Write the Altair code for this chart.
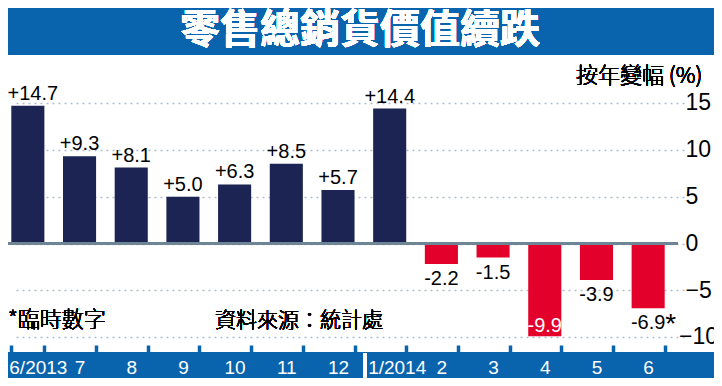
import altair as alt
import pandas as pd

months = ["6/2013", "7", "8", "9", "10", "11", "12", "1/2014", "2", "3", "4", "5", "6"]
values = [14.7, 9.3, 8.1, 5.0, 6.3, 8.5, 5.7, 14.4, -2.2, -1.5, -9.9, -3.9, -6.9]
provisional = [False] * 12 + [True]
y_ticks = [-10, -5, 0, 5, 10, 15]

title_text = "零售總銷貨價值續跌"
unit_text = "按年變幅 (%)"
note_text = "*臨時數字"
source_text = "資料來源：統計處"

NAVY = "#1b2452"
RED = "#e3002b"
BLUE = "#0a64ad"
ZERO = "#6e8595"
GRID = "#aebbd0"
NUMFONT = "Liberation Sans, Arial"
CJK = "Noto Sans CJK TC"

df = pd.DataFrame({"month": months, "value": values, "prov": provisional})
df["label"] = [f"+{v:.1f}" if v > 0 else f"{v:.1f}" for v in values]
df["pos"] = ["above" if v > 0 else ("inside" if v < -9 else "below") for v in values]
df["first"] = [i == 0 for i in range(len(months))]

ticks_df = pd.DataFrame({"tick": y_ticks})
edge_tick = min(y_ticks)

W, H = 670, 337

x_scale = alt.Scale(domain=months, range=[-6, 666], paddingInner=0.36, paddingOuter=0.18)
y_scale = alt.Scale(domain=[-10.83, 25.13], nice=False, zero=False)

base = alt.Chart(df)

year_start = [m for m in months if "/" in m]

xenc = alt.X(
    "month:N",
    scale=x_scale,
    axis=alt.Axis(
        title=None, orient="bottom", domain=False, ticks=True, tickColor=BLUE,
        tickSize=8, tickWidth=3.5, tickBand="extent", tickExtra=False,
        labelColor="white", labelFont=NUMFONT, labelFontSize=19, labelPadding=5,
        labelAngle=0, labelBaseline="top", grid=False, zindex=1,
        labelOffset={
            "condition": [
                {"test": "datum.value == '" + year_start[0] + "'", "value": 10},
                {"test": "datum.value == '" + year_start[1] + "'", "value": 7},
            ],
            "value": 0,
        },
    ),
)
yenc = alt.Y(
    "value:Q",
    scale=y_scale,
    axis=alt.Axis(
        title=None, orient="right", values=y_ticks, grid=True, gridDash=[2, 4],
        gridColor=GRID, gridWidth=1.5, domain=False, ticks=False,
        labelFont=NUMFONT, labelFontSize=23, labelColor="black", labelPadding=7,
        labelExpr="datum.value == " + str(edge_tick) + " ? '' : datum.label",
        labelOverlap=False, labelBound=False, labelAlign="left", zindex=0,
    ),
)

banner = alt.Chart(df).mark_rect(color=BLUE).encode(
    x=alt.value(0), x2=alt.value(706), y=alt.value(0), y2=alt.value(47)
)
title = alt.Chart(df).mark_text(
    text=title_text, font=CJK, fontSize=40, fontWeight="bold", color="white",
    align="center", baseline="middle"
).encode(x=alt.value(352), y=alt.value(23))

strip = alt.Chart(df).mark_rect(color=BLUE).encode(
    x=alt.value(0), x2=alt.value(706), y=alt.value(344), y2=alt.value(370)
)
sep = alt.Chart(df).mark_rule(color="white", strokeWidth=3).encode(
    x=alt.value(357), y=alt.value(345), y2=alt.value(370)
)

bars = base.mark_bar().encode(
    x=xenc,
    y=yenc,
    y2=alt.datum(0),
    color=alt.condition(alt.datum.value > 0, alt.value(NAVY), alt.value(RED)),
)

zero = alt.Chart(df).mark_rule(color=ZERO, strokeWidth=3).encode(
    y=alt.Y(datum=0, scale=y_scale),
    x=alt.value(0), x2=alt.value(670),
)

# bottom tick label of the right axis, pulled in slightly so it stays on the canvas
edge_label = alt.Chart(ticks_df).transform_filter(
    alt.datum.tick == edge_tick
).mark_text(
    align="left", baseline="middle", font=NUMFONT, fontSize=23, color="black"
).encode(
    y=alt.Y("tick:Q", scale=y_scale), x=alt.value(671), text=alt.Text("tick:Q", format="d")
)

xs = alt.X("month:N", scale=x_scale)
ys = alt.Y("value:Q", scale=y_scale)

lab_above = base.transform_filter(
    (alt.datum.pos == "above") & (alt.datum.first == False)
).mark_text(
    baseline="alphabetic", dy=-6, font=NUMFONT, fontSize=20, color="black"
).encode(x=xs, y=ys, text="label:N")

lab_first = base.transform_filter(
    (alt.datum.pos == "above") & (alt.datum.first == True)
).mark_text(
    baseline="alphabetic", dy=-6, dx=5, font=NUMFONT, fontSize=20, color="black"
).encode(x=xs, y=ys, text="label:N")

lab_below = base.transform_filter(alt.datum.pos == "below").mark_text(
    baseline="top", dy=5, font=NUMFONT, fontSize=20, color="black"
).encode(x=xs, y=ys, text="label:N")

lab_inside = base.transform_filter(alt.datum.pos == "inside").mark_text(
    baseline="alphabetic", dy=-4, font=NUMFONT, fontSize=20, color="white"
).encode(x=xs, y=ys, text="label:N")

star = base.transform_filter(alt.datum.prov == True).mark_text(
    text="*", align="left", baseline="top", dx=17, dy=3, font=NUMFONT, fontSize=28, color="black"
).encode(x=xs, y=ys)

unit = alt.Chart(df).mark_text(
    text=unit_text, font=CJK, fontSize=22, fontWeight=300, align="left",
    baseline="middle", color="black"
).encode(x=alt.value(568), y=alt.value(68))

note = alt.Chart(df).mark_text(
    text=note_text, font=CJK, fontSize=22, fontWeight=300, align="left",
    baseline="alphabetic", color="black"
).encode(x=alt.value(0), y=alt.value(319))

source = alt.Chart(df).mark_text(
    text=source_text, font=CJK, fontSize=21, fontWeight=300, align="left",
    baseline="alphabetic", color="black"
).encode(x=alt.value(207), y=alt.value(319))

chart = alt.layer(
    banner, title, strip, sep, bars, zero, edge_label, lab_above, lab_first, lab_below,
    lab_inside, star, unit, note, source
).properties(
    width=W, height=H,
    autosize=alt.AutoSizeParams(type="none"),
    padding={"left": 0, "top": 0, "right": 36, "bottom": 33},
    background="white",
).configure_view(stroke=None)

chart.save("out.html", embed_options={"renderer": "svg", "actions": False})
